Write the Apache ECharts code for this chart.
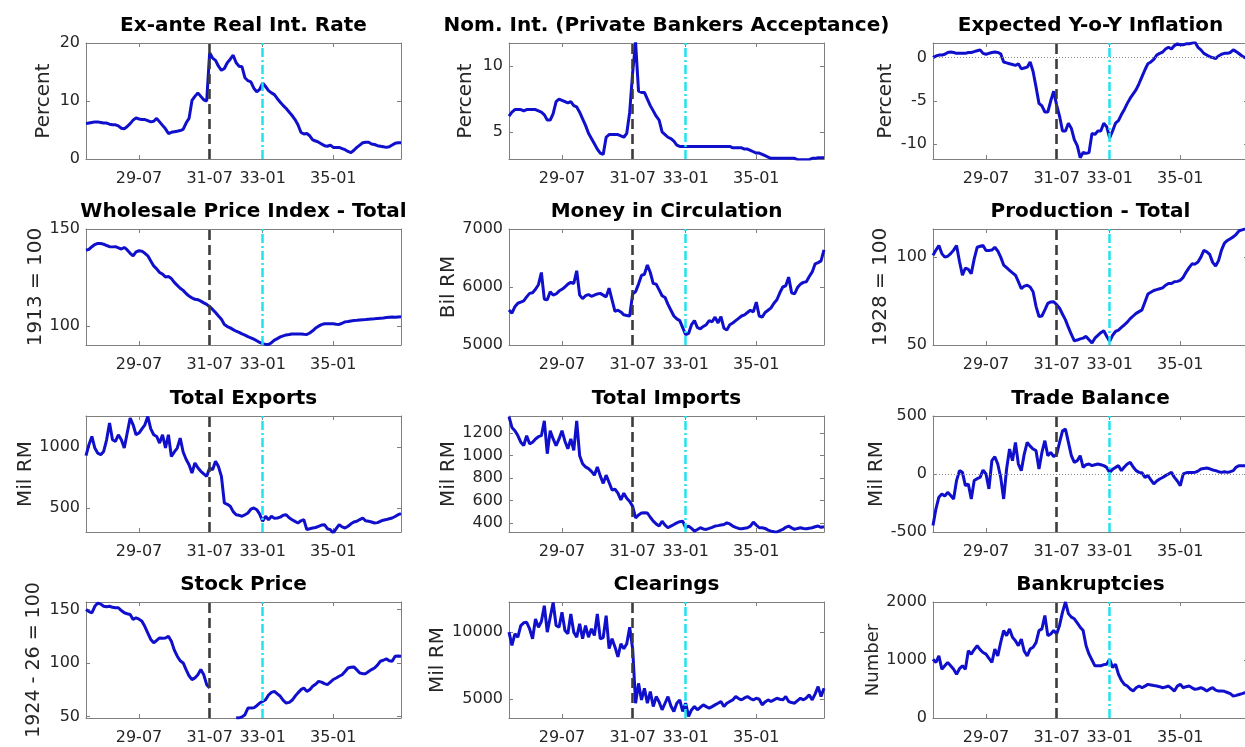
<!DOCTYPE html>
<html>
<head>
<meta charset="utf-8">
<script src="https://cdn.jsdelivr.net/npm/echarts@6/dist/echarts.min.js"></script>
<style>
html, body { margin: 0; padding: 0; background: #fff; }
#main { width: 1245px; height: 747px; }
</style>
</head>
<body>
<div id="main"></div>
<script>
var myChart = echarts.init(document.getElementById('main'));

// monthly labels 28-01 .. 36-12
var months = [];
for (var y = 28; y <= 36; y++) {
    for (var m = 1; m <= 12; m++) {
        months.push(y + '-' + (m < 10 ? '0' + m : m));
    }
}
var tickLabels = ['29-07', '31-07', '33-01', '35-01'];
var crisisMonth = '31-07';   // black dashed
var hitlerMonth = '33-01';   // cyan dash-dot

var titles = ['Ex-ante Real Int. Rate', 'Nom. Int. (Private Bankers Acceptance)', 'Expected Y-o-Y Inflation',
    'Wholesale Price Index - Total', 'Money in Circulation', 'Production - Total',
    'Total Exports', 'Total Imports', 'Trade Balance',
    'Stock Price', 'Clearings', 'Bankruptcies'];
var units = ['Percent', 'Percent', 'Percent', '1913 = 100', 'Bil RM', '1928 = 100',
    'Mil RM', 'Mil RM', 'Mil RM', '1924 - 26 = 100', 'Mil RM', 'Number'];

var realRate = [
    6.1, 6.2, 6.3, 6.4, 6.4, 6.3, 6.2, 6.2, 6.0, 5.9, 5.9, 5.7,
    5.3, 5.2, 5.6, 6.1, 6.7, 7.1, 6.9, 6.8, 6.8, 6.6, 6.4, 6.5,
    7.0, 6.4, 5.8, 5.2, 4.4, 4.6, 4.7, 4.8, 4.9, 5.1, 6.2, 7.0,
    10.1, 10.8, 11.4, 10.8, 10.2, 10.0, 18.3, 17.4, 17.0, 16.0, 15.3, 15.6,
    16.6, 17.2, 17.9, 16.6, 16.0, 15.9, 14.0, 13.5, 13.3, 12.2, 11.6, 12.0,
    13.1, 12.5, 11.8, 11.4, 11.1, 10.4, 9.8, 9.2, 8.7, 8.1, 7.5, 6.8,
    5.9, 4.6, 4.3, 4.4, 4.0, 3.3, 3.1, 2.9, 2.6, 2.3, 2.2, 2.4,
    2.0, 2.0, 2.0, 1.8, 1.6, 1.3, 1.1, 1.5, 2.0, 2.4, 2.8, 2.9,
    2.9, 2.6, 2.5, 2.3, 2.2, 2.1, 2.0, 2.1, 2.4, 2.7, 2.8, 2.8
];
var nomRate = [
    6.2, 6.5, 6.7, 6.7, 6.7, 6.6, 6.7, 6.7, 6.7, 6.7, 6.6, 6.5,
    6.3, 5.9, 5.9, 6.4, 7.3, 7.5, 7.4, 7.3, 7.2, 7.3, 7.0, 6.9,
    6.5, 6.0, 5.5, 4.9, 4.5, 4.1, 3.7, 3.4, 3.3, 4.6, 4.8, 4.8,
    4.8, 4.8, 4.7, 4.6, 4.9, 6.5, 9.5, 11.8, 8.1, 8.0, 8.0, 7.5,
    7.0, 6.6, 6.2, 5.9, 5.0, 4.8, 4.6, 4.5, 4.3, 4.0, 3.9, 3.9,
    3.9, 3.9, 3.9, 3.9, 3.9, 3.9, 3.9, 3.9, 3.9, 3.9, 3.9, 3.9,
    3.9, 3.9, 3.9, 3.9, 3.8, 3.8, 3.8, 3.8, 3.7, 3.7, 3.6, 3.5,
    3.4, 3.4, 3.3, 3.2, 3.1, 3.0, 3.0, 3.0, 3.0, 3.0, 3.0, 3.0,
    3.0, 3.0, 2.9, 2.9, 2.9, 2.9, 2.9, 3.0, 3.0, 3.05, 3.05, 3.05
];
var inflation = [
    0.0, 0.2, 0.3, 0.3, 0.4, 0.6, 0.65, 0.6, 0.5, 0.5, 0.5, 0.5,
    0.6, 0.6, 0.7, 0.8, 0.9, 0.5, 0.4, 0.5, 0.6, 0.65, 0.6, 0.45,
    -0.5, -0.6, -0.7, -0.8, -0.9, -0.7, -1.3, -1.2, -1.1, -0.5, -1.6, -3.4,
    -5.3, -5.6, -6.3, -6.3, -5.0, -3.9, -5.5, -6.8, -8.5, -8.5, -7.6, -8.2,
    -9.5, -10.2, -11.6, -11.0, -11.1, -11.0, -8.8, -8.9, -8.5, -8.5, -7.6, -8.0,
    -9.3, -8.5, -7.6, -7.3, -6.6, -6.0, -5.3, -4.7, -4.2, -3.7, -3.0, -2.2,
    -1.4, -0.7, -0.5, -0.2, 0.3, 0.5, 0.65, 1.0, 1.2, 1.0, 1.4, 1.6,
    1.5, 1.5, 1.6, 1.6, 1.7, 1.8, 1.2, 0.9, 0.5, 0.3, 0.1, 0.0,
    -0.1, 0.2, 0.4, 0.5, 0.5, 0.6, 0.9, 0.7, 0.45, 0.2, 0.0, -0.1
];
var wpi = [
    139.1, 139.5, 140.9, 142.0, 142.6, 142.5, 142.2, 141.5, 140.9, 140.8, 140.9, 140.3,
    139.7, 140.5, 139.2, 137.5, 136.2, 138.2, 138.8, 138.6, 137.5, 136.2, 133.5, 131.0,
    129.5, 127.6, 126.8, 125.3, 125.5, 124.5, 122.5, 121.0, 119.5, 118.4, 116.8, 115.5,
    114.5, 113.8, 113.6, 112.9, 112.0, 111.2, 110.0, 108.6, 107.0, 105.2, 103.5, 100.8,
    99.8, 99.1, 98.2, 97.4, 96.8, 96.0, 95.4, 94.6, 94.0, 93.3, 92.5, 91.6,
    91.0, 90.6, 90.5, 91.5, 92.8, 93.6, 94.5, 95.0, 95.5, 95.7, 96.0, 96.0,
    95.9, 96.0, 95.8, 95.7, 96.5, 97.6, 99.0, 100.0, 100.8, 101.2, 101.2, 101.3,
    101.2, 101.0, 100.9, 101.5, 102.2, 102.4, 102.7, 102.9, 103.0, 103.2, 103.3, 103.4,
    103.6, 103.7, 103.8, 104.0, 104.1, 104.2, 104.4, 104.6, 104.7, 104.6, 104.7, 104.8
];
var money = [
    5605, 5548, 5660, 5720, 5740, 5760, 5830, 5890, 5900, 5960, 6040, 6250,
    5790, 5780, 5920, 5860, 5880, 5930, 5960, 6000, 6050, 6080, 6060, 6280,
    5860, 5800, 5850, 5870, 5840, 5860, 5880, 5890, 5860, 5830, 5980, 5780,
    5580, 5600, 5570, 5520, 5510, 5500, 5880, 5920, 6050, 6200, 6220, 6380,
    6250, 6060, 6050, 5950, 5850, 5820, 5700, 5600, 5500, 5450, 5420, 5300,
    5180, 5200, 5350, 5420, 5300, 5280, 5320, 5350, 5420, 5400, 5480, 5380,
    5490, 5290, 5260, 5350, 5380, 5420, 5460, 5500, 5520, 5560, 5600, 5570,
    5740, 5500, 5480, 5560, 5600, 5640, 5720, 5780, 5900, 6000, 6020, 6170,
    5900, 5880, 5990, 6050, 6080, 6090, 6180, 6260, 6400, 6420, 6450, 6640
];
var production = [
    101, 104, 106.6, 102, 100, 100.5, 102, 104, 106.6, 97.5, 89.7, 93.8,
    93.0, 90.6, 99.0, 105.6, 106.2, 106.6, 103.8, 103.8, 104.0, 105.6, 103.5, 100.0,
    95.5, 94.0, 92.5, 91.0, 89.7, 86.0, 82.1, 83.5, 84.0, 83.0, 80.3, 72.0,
    66.2, 66.5, 70.0, 73.7, 74.5, 74.6, 73.0, 70.9, 67.5, 64.3, 60.0, 56.0,
    52.4, 52.8, 53.5, 53.9, 54.9, 53.0, 51.1, 53.9, 55.5, 57.0, 58.1, 55.0,
    52.1, 55.5, 57.7, 58.5, 60.0, 61.5, 63.0, 65.0, 66.5, 68.0, 69.0, 70.0,
    74.5, 79.0, 80.0, 81.0, 81.5, 82.0, 82.5, 84.0, 85.0, 85.0, 86.0, 86.2,
    86.8, 88.5, 91.5, 94.0, 96.2, 96.0, 97.2, 100.0, 103.8, 103.0, 101.5, 97.0,
    94.9, 98.0, 104.0, 108.0, 109.5, 110.5, 111.5, 113.0, 115.0, 115.5, 116.0, 116.0
];
var exportsTotal = [
    929, 1020, 1087, 992, 950, 937, 964, 1060, 1197, 1060, 1046, 1101,
    1060, 992, 1115, 1238, 1183, 1101, 1115, 1150, 1183, 1251, 1150, 1101,
    1087, 1033, 1101, 992, 1101, 923, 960, 992, 1074, 960, 900, 855,
    787, 869, 830, 801, 780, 760, 828, 814, 883, 840, 760, 541,
    530, 514, 470, 445, 440, 432, 445, 459, 490, 500, 486, 450,
    391, 432, 404, 432, 415, 418, 425, 440, 445, 420, 404, 390,
    377, 395, 404, 322, 330, 336, 340, 350, 360, 363, 330, 322,
    295, 330, 363, 345, 336, 350, 370, 385, 391, 405, 418, 395,
    391, 385, 377, 380, 391, 400, 405, 412, 418, 430, 445, 454
];
var importsTotal = [
    1350, 1253, 1224, 1180, 1121, 1091, 1179, 1106, 1120, 1150, 1170, 1179,
    1312, 1018, 1224, 1150, 1091, 1150, 1224, 1130, 1062, 1150, 1047, 1312,
    1000, 929, 900, 885, 860, 826, 900, 820, 753, 826, 760, 694,
    700, 665, 606, 665, 620, 591, 547, 444, 470, 488, 490, 488,
    450, 415, 390, 371, 415, 380, 356, 371, 385, 400, 410, 415,
    356, 371, 350, 326, 340, 356, 345, 341, 350, 360, 371, 375,
    380, 385, 400, 390, 371, 360, 350, 347, 352, 356, 370, 406,
    380, 356, 356, 350, 335, 326, 320, 318, 330, 341, 360, 371,
    355, 341, 350, 356, 350, 347, 352, 356, 365, 371, 360, 365
];
var tradeBalance = [
    -444, -300, -200, -172, -190, -158, -186, -215, -57, 29, 14, -100,
    -86, -215, -57, -40, -29, 34, 0, -129, 115, 149, 86, -29,
    -215, 43, 215, 115, 272, 86, 29, 172, 272, 240, 215, 201,
    43, 186, 287, 158, 186, 149, 170, 272, 372, 387, 272, 158,
    100, 115, 158, 57, 80, 86, 72, 80, 86, 80, 72, 57,
    14, 40, 57, 72, 29, 60, 86, 100, 60, 29, 14, 10,
    -29, -14, -50, -86, -60, -43, -30, -14, 0, 14, -29, -60,
    -100, 0, 10, 14, 12, 14, 25, 43, 48, 52, 45, 35,
    29, 20, 14, 20, 14, 20, 29, 60, 72, 72, 72, 70
];
// exchange closed Aug 1931 - Mar 1932
var stockPrice = [
    150, 148, 146.9, 153, 156, 155, 153, 152.5, 153, 152, 151.6, 151.6,
    149, 146.9, 146, 145.3, 140.6, 142.2, 141, 139, 134, 128, 122, 118.8,
    121, 123.4, 123, 123.4, 125, 120.3, 112, 106.3, 102, 100, 93.8, 88,
    84.4, 86, 89, 93.8, 89, 79.7, 76.6, null, null, null, null, null,
    null, null, null, 48.8, 48.6, 49.5, 51.6, 57.8, 57.8, 58, 60, 62.5,
    64, 65.6, 70, 72.5, 73.4, 71, 68.8, 65, 62.5, 63.1, 65, 68.8,
    72, 75, 76.6, 73.4, 75, 78.1, 80, 82.8, 82, 80.6, 79.7, 82,
    84.5, 85.9, 87.5, 89, 92, 95.3, 96, 96.3, 93.5, 90.6, 90, 90,
    92, 93.8, 95.3, 98, 101.6, 102.5, 103.8, 102, 101.6, 106.3, 106.5, 106.3
];
var clearings = [
    10000, 9015, 9877, 9630, 10493, 10700, 10739, 10246, 9507, 10985, 10369, 10800,
    11970, 10000, 11108, 12217, 10493, 10369, 11478, 10123, 9877, 11355, 10000, 9630,
    10616, 9507, 10493, 9630, 10246, 9754, 11355, 9507, 9600, 11232, 8768, 9507,
    8900, 8153, 9138, 8768, 9138, 10369, 8768, 4704, 6182, 4951, 5813, 4704,
    5567, 4458, 5197, 4800, 4212, 4700, 5197, 4500, 4089, 4700, 4951, 4089,
    4704, 3719, 4200, 4458, 4212, 4400, 4581, 4450, 4335, 4450, 4581, 4700,
    4828, 4458, 4700, 4828, 4951, 5197, 5050, 4951, 5100, 5197, 5050, 4951,
    5074, 5000, 4581, 4800, 4951, 4828, 4950, 5074, 5000, 4951, 5197, 4828,
    4750, 4704, 4900, 5074, 4951, 5100, 5320, 4951, 5400, 5936, 5197, 5813
];
var bankruptcies = [
    1014, 957, 1072, 841, 900, 957, 900, 841, 754, 850, 899, 841,
    1159, 1101, 1180, 1246, 1180, 1130, 1101, 1030, 957, 1188, 1072, 1304,
    1507, 1420, 1536, 1391, 1333, 1246, 1362, 1150, 1072, 1188, 1220, 1300,
    1507, 1536, 1768, 1420, 1449, 1507, 1449, 1600, 1826, 2000, 1800, 1739,
    1710, 1640, 1565, 1507, 1246, 1101, 1000, 899, 899, 899, 920, 928,
    1014, 870, 928, 754, 650, 580, 551, 500, 464, 520, 551, 522,
    550, 580, 570, 560, 551, 540, 522, 535, 551, 510, 464, 550,
    580, 522, 540, 551, 520, 493, 505, 522, 500, 464, 500, 522,
    480, 464, 464, 460, 440, 420, 377, 390, 406, 420, 435, 440
];

var seriesData = [realRate, nomRate, inflation, wpi, money, production,
    exportsTotal, importsTotal, tradeBalance, stockPrice, clearings, bankruptcies];

// axis ranges and tick values per panel
var yMin = [0, 2.95, -11.75, 90.3, 5000, 50, 303, 318, -500, 48.5, 3600, 0];
var yMax = [20, 11.75, 1.7, 150, 7000, 116, 1255, 1355, 500, 157, 12250, 2000];
var yTicks = [[0, 10, 20], [5, 10], [-10, -5, 0], [100, 150], [5000, 6000, 7000], [50, 100],
    [500, 1000], [400, 600, 800, 1000, 1200], [-500, 0, 500], [50, 100, 150], [5000, 10000], [0, 1000, 2000]];
var zeroLine = [false, false, true, false, false, false, false, false, true, false, false, false];

// layout
var colLeft = [86, 509, 933];
var rowTop = [43, 229, 416, 602];
var plotW = 315, plotH = 116;
var nameGap = [32, 33, 37, 40, 46, 42, 48, 48, 44, 42, 48, 50];
var nameSize = [20, 20, 20, 20, 20, 20, 20, 20, 20, 19, 20, 18];

var FONT = '"DejaVu Sans", sans-serif';
var frame = { color: '#7f7f7f', width: 1 };
var textCol = '#262626';

function showTick(index, value) {
    return tickLabels.indexOf(value) >= 0;
}
function plain(v) {
    return String(v);
}

var grids = [], xAxes = [], yAxes = [], series = [], graphics = [];

seriesData.forEach(function (data, k) {
    var col = k % 3, row = Math.floor(k / 3);
    grids.push({
        left: colLeft[col], top: rowTop[row], width: plotW, height: plotH,
        containLabel: false, outerBoundsMode: 'none'
    });
    ['bottom', 'top'].forEach(function (pos) {
        xAxes.push({
            type: 'category', gridIndex: k, data: months, boundaryGap: false, position: pos,
            axisLine: { onZero: false, lineStyle: frame },
            axisTick: { inside: true, length: 4, interval: showTick, lineStyle: frame },
            axisLabel: pos === 'bottom'
                ? { interval: showTick, margin: 12, color: textCol, fontSize: 16, fontFamily: FONT }
                : { show: false },
            splitLine: { show: false }
        });
    });
    ['left', 'right'].forEach(function (pos) {
        var ax = {
            type: 'value', gridIndex: k, min: yMin[k], max: yMax[k], position: pos,
            axisLine: { show: true, onZero: false, lineStyle: frame },
            axisTick: { show: true, inside: true, length: 4, customValues: yTicks[k], lineStyle: frame },
            axisLabel: { show: false },
            splitLine: { show: false }
        };
        if (pos === 'left') {
            ax.axisLabel = { customValues: yTicks[k], formatter: plain, margin: 6, color: textCol, fontSize: 16, fontFamily: FONT };
            ax.name = units[k];
            ax.nameLocation = 'middle';
            ax.nameRotate = 90;
            ax.nameGap = nameGap[k];
            ax.nameTextStyle = { color: textCol, fontSize: nameSize[k], fontFamily: FONT };
        }
        yAxes.push(ax);
    });

    var marks = [];
    if (zeroLine[k]) {
        marks.push({ yAxis: 0, lineStyle: { color: '#8a8a8a', type: [1, 2], width: 1 } });
    }
    marks.push({ xAxis: crisisMonth, lineStyle: { color: '#3c3c3c', type: [10, 5], width: 2.6 } });
    marks.push({ xAxis: hitlerMonth, lineStyle: { color: '#1ee4f0', type: [9, 3, 2, 3], width: 2.5 } });

    series.push({
        type: 'line', xAxisIndex: 2 * k, yAxisIndex: 2 * k, data: data,
        showSymbol: false, symbol: 'none', connectNulls: false,
        lineStyle: { color: '#0f0fcc', width: 3 },
        markLine: {
            silent: true, symbol: ['none', 'none'], label: { show: false },
            animation: false, data: marks
        }
    });

    graphics.push({
        type: 'text', x: colLeft[col] + plotW / 2, y: rowTop[row] - 17,
        style: {
            text: titles[k], fill: '#000', align: 'center', verticalAlign: 'middle',
            font: 'bold 20px "DejaVu Sans", sans-serif'
        }
    });
});

myChart.setOption({
    animation: false,
    backgroundColor: '#fff',
    grid: grids,
    xAxis: xAxes,
    yAxis: yAxes,
    series: series,
    graphic: { elements: graphics }
});
</script>
</body>
</html>
